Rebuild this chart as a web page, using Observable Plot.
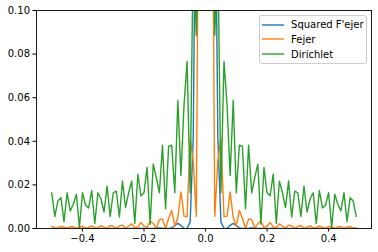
<!DOCTYPE html>
<html>
<head>
<meta charset="utf-8">
<script src="https://cdn.jsdelivr.net/npm/d3@7"></script>
<script src="https://cdn.jsdelivr.net/npm/@observablehq/plot@0.6"></script>
<style>
  html, body { margin: 0; padding: 0; background: white; }
  #wrap { position: relative; width: 378px; height: 252px; font-family: "DejaVu Sans", sans-serif; }
  .legend { position: absolute; left: 258.7px; top: 15.3px; width: 106px; height: 46.5px;
            border: 1px solid #cccccc; border-radius: 3px; background: rgba(255,255,255,0.8); }
  .row { position: absolute; left: 0; height: 14.66px; display: flex; align-items: center; font-size: 10px; color: black; white-space: nowrap; }
  .sw { width: 22px; height: 6px; margin-left: 2.4px; margin-right: 7px; display: block; }
</style>
</head>
<body>
<div id="wrap"></div>
<script>
const xs = [
 -0.50,-0.49,-0.48,-0.47,-0.46,-0.45,-0.44,-0.43,-0.42,-0.41,
 -0.40,-0.39,-0.38,-0.37,-0.36,-0.35,-0.34,-0.33,-0.32,-0.31,
 -0.30,-0.29,-0.28,-0.27,-0.26,-0.25,-0.24,-0.23,-0.22,-0.21,
 -0.20,-0.19,-0.18,-0.17,-0.16,-0.15,-0.14,-0.13,-0.12,-0.11,
 -0.10,-0.09,-0.08,-0.07,-0.06,-0.05,-0.04,-0.03,-0.02,-0.01,
  0.00, 0.01, 0.02, 0.03, 0.04, 0.05, 0.06, 0.07, 0.08, 0.09,
  0.10, 0.11, 0.12, 0.13, 0.14, 0.15, 0.16, 0.17, 0.18, 0.19,
  0.20, 0.21, 0.22, 0.23, 0.24, 0.25, 0.26, 0.27, 0.28, 0.29,
  0.30, 0.31, 0.32, 0.33, 0.34, 0.35, 0.36, 0.37, 0.38, 0.39,
  0.40, 0.41, 0.42, 0.43, 0.44, 0.45, 0.46, 0.47, 0.48, 0.49
];

const squaredFejer = [
 0,0.000001,0.000008,0.000015,0.000011,0.000002,0,0,0.000006,0.000017,
 0.000015,0.000004,0,0,0.000005,0.00002,0.000024,0.00001,0.000001,0,
 0.000004,0.000026,0.000043,0.000025,0.000003,0,0.000004,0.000041,0.000092,0.000073,
 0.000015,0,0.000003,0.00008,0.000264,0.000294,0.000102,0.000002,0.000003,0.000255,
 0.00137,0.002345,0.001406,0.000124,0.000003,0.003046,0.041472,0.19285,0.4981,0.8458,
 1,0.8458,0.4981,0.19285,0.041472,0.003046,0.000003,0.000124,0.001406,0.002345,
 0.00137,0.000255,0.000003,0.000002,0.000102,0.000294,0.000264,0.00008,0.000003,0,
 0.000015,0.000073,0.000092,0.000041,0.000004,0,0.000003,0.000025,0.000043,0.000026,
 0.000004,0,0.000001,0.00001,0.000024,0.00002,0.000005,0,0,0.000004,
 0.000015,0.000017,0.000006,0,0,0.000002,0.000011,0.000015,0.000008,0.000001
];

const fejer = [
 0.00104,0.00033,0.00014,0.00100,0.00056,0.00003,0.00088,0.00081,0.00000,0.00070,
 0.00104,0.00009,0.00049,0.00122,0.00030,0.00027,0.00133,0.00061,0.00009,0.00135,
 0.00104,0.00000,0.00125,0.00156,0.00007,0.00104,0.00214,0.00038,0.00074,0.00277,
 0.00104,0.00038,0.00340,0.00226,0.00007,0.00401,0.00441,0.00006,0.00456,0.00836,
 0.00104,0.00502,0.01676,0.00567,0.00537,0.04151,0.03106,0.00559,0.22806,0.72199,
 1.00000,0.72199,0.22806,0.00559,0.03106,0.04151,0.00537,0.00567,0.01676,0.00502,
 0.00104,0.00836,0.00456,0.00006,0.00441,0.00401,0.00007,0.00226,0.00340,0.00038,
 0.00104,0.00277,0.00074,0.00038,0.00214,0.00104,0.00007,0.00156,0.00125,0.00000,
 0.00104,0.00135,0.00009,0.00061,0.00133,0.00027,0.00030,0.00122,0.00049,0.00009,
 0.00104,0.00070,0.00000,0.00081,0.00088,0.00003,0.00056,0.00100,0.00014,0.00033
];

const dirichlet = [
 0.01639,0.00556,0.01266,0.01417,0.00310,0.01639,0.00804,0.01111,0.01574,0.00054,
 0.01639,0.01068,0.00945,0.01743,0.00227,0.01639,0.01364,0.00756,0.01938,0.00553,
 0.01639,0.01716,0.00529,0.02176,0.00958,0.01639,0.02167,0.00233,0.02491,0.01503,
 0.01639,0.02801,0.00192,0.02956,0.02329,0.01640,0.03820,0.00901,0.03761,0.03825,
 0.01639,0.05873,0.02427,0.05640,0.07667,0.01639,0.12852,0.08868,0.16638,0.49133,
 1.00000,0.49133,0.16638,0.08868,0.12852,0.01639,0.07667,0.05640,0.02427,0.05873,
 0.01639,0.03825,0.03761,0.00901,0.03820,0.01640,0.02329,0.02956,0.00192,0.02801,
 0.01639,0.01503,0.02491,0.00233,0.02167,0.01639,0.00958,0.02176,0.00529,0.01716,
 0.01639,0.00553,0.01938,0.00756,0.01364,0.01639,0.00227,0.01743,0.00945,0.01068,
 0.01639,0.00054,0.01574,0.01111,0.00804,0.01639,0.00310,0.01417,0.01266,0.00556
];

const seriesNames = ["Squared F'ejer", "Fejer", "Dirichlet"];
const seriesColors = ["#1f77b4", "#ff7f0e", "#2ca02c"];
const xTicks = [-0.4, -0.2, 0, 0.2, 0.4];
const xTickLabels = ["\u22120.4", "\u22120.2", "0.0", "0.2", "0.4"];
const yTicks = [0, 0.02, 0.04, 0.06, 0.08, 0.10];
const yTickLabels = ["0.00", "0.02", "0.04", "0.06", "0.08", "0.10"];

const seriesValues = [squaredFejer, fejer, dirichlet];
const rows = [];
seriesValues.forEach((vals, s) => {
  vals.forEach((v, i) => rows.push({x: xs[i], y: v, series: seriesNames[s]}));
});

const chart = Plot.plot({
  width: 378,
  height: 252,
  marginLeft: 36,
  marginRight: 7,
  marginTop: 10,
  marginBottom: 24,
  style: {fontFamily: "DejaVu Sans", fontSize: "10px", color: "black", background: "white", overflow: "visible"},
  x: {domain: [-0.5495, 0.5395]},
  y: {domain: [0, 0.1]},
  marks: [
    ...seriesNames.map((name, s) =>
      Plot.line(rows.filter(r => r.series === name), {
        x: "x", y: "y", stroke: seriesColors[s], strokeWidth: 1.4,
        strokeLinejoin: "round", clip: true
      })
    ),
    Plot.frame({stroke: "black", strokeWidth: 0.9}),
    Plot.axisX({ticks: xTicks, tickFormat: (d) => xTickLabels[xTicks.indexOf(d)], tickSize: 3.5, tickPadding: 3, label: null, fontSize: 10}),
    Plot.axisY({ticks: yTicks, tickFormat: (d) => yTickLabels[yTicks.findIndex(t => Math.abs(t - d) < 1e-9)], tickSize: 3.5, tickPadding: 3, label: null, fontSize: 10})
  ]
});

const wrap = document.getElementById("wrap");
wrap.appendChild(chart);

const svgNS = "http://www.w3.org/2000/svg";
const legend = document.createElement("div");
legend.className = "legend";
seriesNames.forEach((name, s) => {
  const row = document.createElement("div");
  row.className = "row";
  row.style.top = (1.1 + s * 14.66) + "px";
  const sw = document.createElementNS(svgNS, "svg");
  sw.setAttribute("class", "sw");
  sw.setAttribute("width", "22");
  sw.setAttribute("height", "6");
  const ln = document.createElementNS(svgNS, "line");
  ln.setAttribute("x1", "0"); ln.setAttribute("x2", "22");
  ln.setAttribute("y1", "3"); ln.setAttribute("y2", "3");
  ln.setAttribute("stroke", seriesColors[s]);
  ln.setAttribute("stroke-width", "1.4");
  sw.appendChild(ln);
  const t = document.createElement("span");
  t.textContent = name;
  row.appendChild(sw);
  row.appendChild(t);
  legend.appendChild(row);
});
wrap.appendChild(legend);
</script>
</body>
</html>
